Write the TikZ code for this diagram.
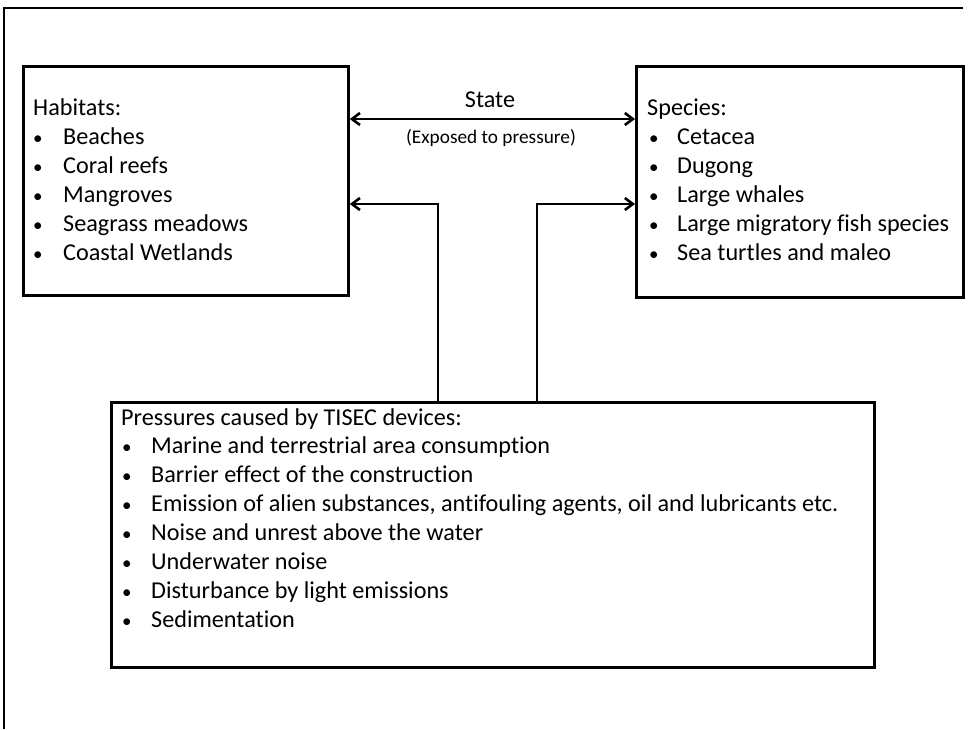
\documentclass[tikz,border=0pt]{standalone}
\usepackage{fontspec}
\setmainfont[Ligatures=NoCommon]{Carlito}
\usetikzlibrary{arrows.meta}
\begin{document}
\begin{tikzpicture}[x=1pt,y=-1pt,
  box/.style={draw=black,line width=2.8pt,rectangle,inner sep=0pt,anchor=north west},
  txt/.style={anchor=base west,inner sep=0pt,font=\fontsize{24.2}{29}\selectfont},
  bul/.style={anchor=base west,inner sep=0pt,font=\fontsize{19}{29}\selectfont},
  smalltxt/.style={anchor=base,inner sep=0pt,font=\fontsize{19.3}{22}\selectfont},
  tip/.style={},
  conn/.style={line width=2.8pt,-{Straight Barb[length=8pt,width=12pt,line width=2.6pt]}},
  conn2/.style={line width=2.8pt,{Straight Barb[length=8pt,width=12pt,line width=2.6pt]}-{Straight Barb[length=8pt,width=12pt,line width=2.6pt]}},
  frame/.style={line width=2pt}]
\useasboundingbox (0,0) rectangle (968,729);
% outer frame (top and left edges only)
\coordinate (ftl) at (4,8);
\coordinate (ftr) at (963,8);
\coordinate (fbl) at (4,729);
\draw[frame] (ftr) -- (ftl) -- (fbl);
% boxes
\node[box,minimum width=325pt,minimum height=229pt] (hab) at (22,65) {};
\node[box,minimum width=327pt,minimum height=231pt] (spe) at (635,65) {};
\node[box,minimum width=763pt,minimum height=265pt] (pre) at (110,401) {};
% habitats text
\node[txt] (habh) at (33,115) {Habitats:};
\foreach \t [count=\i] in {Beaches, Coral reefs, Mangroves, Seagrass meadows, Coastal Wetlands} {
  \node[bul] (hb\i) at (33,{115+29*\i}) {•};
  \node[txt] (ht\i) at (63,{115+29*\i}) {\t};
}
% species text
\node[txt] (speh) at (647,115) {Species:};
\foreach \t [count=\i] in {Cetacea, Dugong, Large whales, Large migratory fish species, Sea turtles and maleo} {
  \node[bul] (sb\i) at (649,{115+29*\i}) {•};
  \node[txt] (st\i) at (677,{115+29*\i}) {\t};
}
% pressures text
\node[txt] (preh) at (121,425) {Pressures caused by TISEC devices:};
\foreach \t [count=\i] in {Marine and terrestrial area consumption, Barrier effect of the construction, {Emission of alien substances, antifouling agents, oil and lubricants etc.}, Noise and unrest above the water, Underwater noise, Disturbance by light emissions, Sedimentation} {
  \node[bul] (pb\i) at (122,{425+28.9*\i}) {•};
  \node[txt] (pt\i) at (151,{425+28.9*\i}) {\t};
}
% state arrow
\draw[conn2] (hab.east |- 0,119) -- (spe.west |- 0,119);
\node[txt,anchor=base] (state) at (490,107) {State};
\node[smalltxt] (exposed) at (491,143) {(Exposed to pressure)};
% pressure connectors
\coordinate (pl) at (438,401);
\coordinate (pr) at (537,401);
\draw[conn] (pl) |- (hab.east |- 0,204);
\draw[conn] (pr) |- (spe.west |- 0,204);
\end{tikzpicture}
\end{document}
